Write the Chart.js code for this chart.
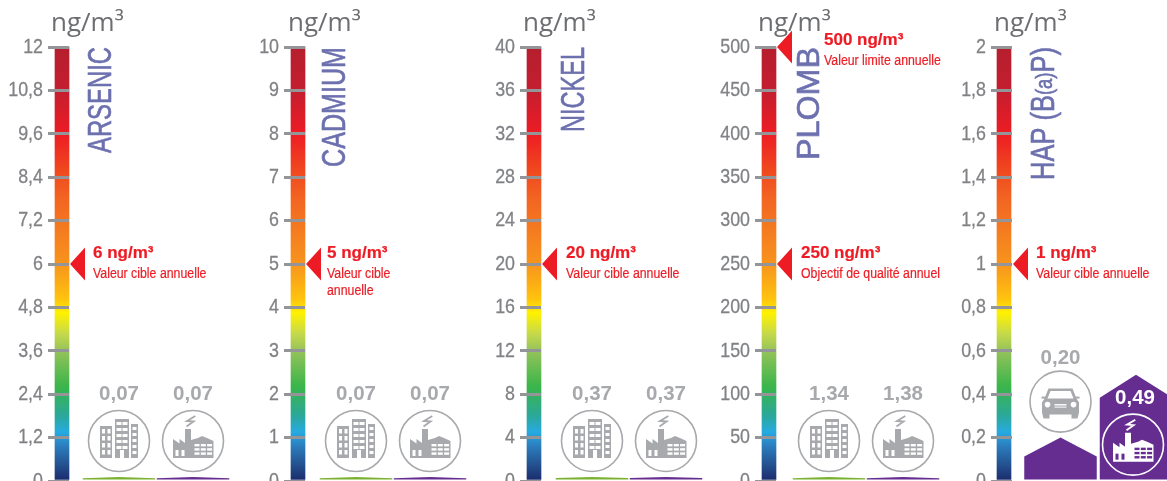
<!DOCTYPE html>
<html>
<head>
<meta charset="utf-8">
<title>Concentrations ng/m3</title>
<script src="https://cdn.jsdelivr.net/npm/chart.js@4"></script>
<style>
  html, body { margin: 0; padding: 0; background: #fff; overflow: hidden; }
  #page { position: relative; width: 1167px; height: 481px; overflow: hidden; }
  canvas { position: absolute; top: 0; }
</style>
</head>
<body>
<div id="page"></div>
<script>
// ==========================
// DATA
// ==========================
const arsenicTicks = [0, 1.2, 2.4, 3.6, 4.8, 6, 7.2, 8.4, 9.6, 10.8, 12];
const cadmiumTicks = [0, 1, 2, 3, 4, 5, 6, 7, 8, 9, 10];
const nickelTicks = [0, 4, 8, 12, 16, 20, 24, 28, 32, 36, 40];
const plombTicks = [0, 50, 100, 150, 200, 250, 300, 350, 400, 450, 500];
const hapTicks = [0, 0.2, 0.4, 0.6, 0.8, 1, 1.2, 1.4, 1.6, 1.8, 2];

const arsenicValues = [0.07, 0.07];
const cadmiumValues = [0.07, 0.07];
const nickelValues = [0.37, 0.37];
const plombValues = [1.34, 1.38];
const hapValues = [0.20, 0.49];

const arsenicTargets = [6];
const cadmiumTargets = [5];
const nickelTargets = [20];
const plombTargets = [500, 250];
const hapTargets = [1];

const arsenicNotes = [["Valeur cible annuelle"]];
const cadmiumNotes = [["Valeur cible", "annuelle"]];
const nickelNotes = [["Valeur cible annuelle"]];
const plombNotes = [["Valeur limite annuelle"], ["Objectif de qualité annuel"]];
const hapNotes = [["Valeur cible annuelle"]];

const unit = "ng/m³";

// ==========================
// COLOURS / FONTS
// ==========================
const GREY = "#a7a9ac";
const TICK_GREY = "#939598";
const RED = "#ed1c24";
const NAME_BLUE = "#6c70ae";
const GREEN = "#7ab130";
const PURPLE = "#662d91";
const SANS = '"Liberation Sans", sans-serif'; // no condensed face installed, squeezed with ctx.scale

const gaugeStops = [
  [0, "#b51f2e"], [0.1, "#c41e2f"], [0.2, "#ed1c24"], [0.28, "#f0461f"], [0.35, "#f26522"],
  [0.5, "#f7941d"], [0.58, "#ffc20e"], [0.613, "#fff200"], [0.66, "#c6d94a"], [0.7, "#95c35a"],
  [0.783, "#39b54a"], [0.85, "#2ba89a"], [0.887, "#27aae1"], [0.917, "#2b80c0"],
  [0.963, "#24508f"], [1, "#1b2a6b"]
];

// ==========================
// PANELS (layout only, values come from the arrays above)
// ==========================
const panels = [
  { name: [["ARSENIC", 1]], nameLen: 106, nameX: 101, ticks: arsenicTicks, values: arsenicValues,
    targets: arsenicTargets, notes: arsenicNotes, colors: [GREEN, PURPLE], icons: ["building", "factory"],
    left: 0, width: 235, axisX: 69, gaugeX: 62, firstBar: 119, step: 74, unitX: 51,
    noteDx: [23], noteDy: [[-11, 10]] },
  { name: [["CADMIUM", 1]], nameLen: 120, nameX: 335, ticks: cadmiumTicks, values: cadmiumValues,
    targets: cadmiumTargets, notes: cadmiumNotes, colors: [GREEN, PURPLE], icons: ["building", "factory"],
    left: 235, width: 235, axisX: 305, gaugeX: 298, firstBar: 356, step: 74, unitX: 288,
    noteDx: [21], noteDy: [[-11, 10]] },
  { name: [["NICKEL", 1]], nameLen: 85, nameX: 574, ticks: nickelTicks, values: nickelValues,
    targets: nickelTargets, notes: nickelNotes, colors: [GREEN, PURPLE], icons: ["building", "factory"],
    left: 470, width: 238, axisX: 541, gaugeX: 534, firstBar: 592, step: 74, unitX: 523,
    noteDx: [24], noteDy: [[-11, 10]] },
  { name: [["PLOMB", 0.94]], nameLen: 113, nameX: 809, ticks: plombTicks, values: plombValues,
    targets: plombTargets, notes: plombNotes, colors: [GREEN, PURPLE], icons: ["building", "factory"],
    left: 708, width: 237, axisX: 776, gaugeX: 769, firstBar: 829, step: 74, unitX: 758,
    noteDx: [47, 24], noteDy: [[-7, 14], [-11, 10]] },
  { name: [["HAP (B", 1], ["(a)", 0.72], ["P)", 1]], nameLen: 133, nameX: 1044, ticks: hapTicks, values: hapValues,
    targets: hapTargets, notes: hapNotes, colors: [PURPLE, PURPLE], icons: ["car", "factory"],
    left: 945, width: 222, axisX: 1012, gaugeX: 1004, firstBar: 1060.5, step: 75.5, unitX: 994,
    noteDx: [23], noteDy: [[-11, 10]] }
];

const AREA_TOP = 47;

// ==========================
// ICONS
// ==========================
function drawBuilding(ctx, fg, bg) {
  ctx.fillStyle = fg;
  ctx.fillRect(-19, -15, 12, 32);
  ctx.fillRect(-4, -22, 14, 39);
  ctx.fillRect(12, -17, 7, 34);
  ctx.fillStyle = bg;
  for (let r = 0; r < 4; r++) {
    for (let c = 0; c < 2; c++) ctx.fillRect(-17 + c * 5.5, -12 + r * 7, 3, 4.5);
  }
  for (let r = 0; r < 5; r++) {
    for (let c = 0; c < 2; c++) ctx.fillRect(-2.5 + c * 6, -19 + r * 6, 5, 3);
    ctx.fillRect(13.5, -14 + r * 6, 4, 3);
  }
  ctx.fillRect(1, 9, 4, 8);
}

function drawFactory(ctx, fg, bg) {
  ctx.fillStyle = fg;
  ctx.beginPath();
  const outline = [[-20, 17], [-20, -2], [-13.5, 2.5], [-13.5, -2], [-8, 2], [-8, -12], [-2, -12],
    [-2, -1], [5, -3], [9, -5], [14, -3], [20.5, 0], [20.5, 17]];
  outline.forEach((p, i) => i ? ctx.lineTo(p[0], p[1]) : ctx.moveTo(p[0], p[1]));
  ctx.closePath();
  ctx.fill();
  ctx.fillStyle = bg;
  for (let r = 0; r < 3; r++) {
    for (let c = 0; c < 3; c++) ctx.fillRect(1.5 + c * 6.3, 3 + r * 4.2, 5, 2.4);
  }
  ctx.fillRect(-17.5, 9, 3, 6);
  ctx.fillRect(-11.5, 9, 3, 6);
  ctx.strokeStyle = fg;
  ctx.lineWidth = 1.8;
  ctx.beginPath();
  ctx.moveTo(2.3, -25);
  ctx.lineTo(-6, -20);
  ctx.lineTo(0.6, -19.5);
  ctx.lineTo(-6.5, -14.5);
  ctx.stroke();
}

function drawCar(ctx, fg, bg) {
  ctx.fillStyle = fg;
  ctx.beginPath();
  ctx.moveTo(-12, -13);
  ctx.lineTo(12, -13);
  ctx.lineTo(16, -3);
  ctx.lineTo(18.5, 1);
  ctx.lineTo(18.5, 11);
  ctx.lineTo(17, 17);
  ctx.lineTo(11, 17);
  ctx.lineTo(11, 13);
  ctx.lineTo(-11, 13);
  ctx.lineTo(-11, 17);
  ctx.lineTo(-17, 17);
  ctx.lineTo(-18.5, 11);
  ctx.lineTo(-18.5, 1);
  ctx.lineTo(-16, -3);
  ctx.closePath();
  ctx.fill();
  ctx.fillRect(-19, -5, 5, 2);
  ctx.fillRect(14, -5, 5, 2);
  ctx.fillStyle = bg;
  ctx.beginPath();
  ctx.moveTo(-10, -10.5);
  ctx.lineTo(10, -10.5);
  ctx.lineTo(13, -3);
  ctx.lineTo(-13, -3);
  ctx.closePath();
  ctx.fill();
  [-13, 13].forEach(x => {
    ctx.beginPath();
    ctx.arc(x, 3, 2.8, 0, Math.PI * 2);
    ctx.fill();
  });
  ctx.fillRect(-6, 2.5, 12, 1.4);
  ctx.fillRect(-6, 5, 12, 1);
}

const iconDrawers = { building: drawBuilding, factory: drawFactory, car: drawCar };

function drawIcon(ctx, kind, x, y, fg, bg) {
  ctx.save();
  ctx.translate(x, y);
  ctx.strokeStyle = fg;
  ctx.lineWidth = 1.6;
  ctx.beginPath();
  ctx.arc(0, 0, 30.5, 0, Math.PI * 2);
  ctx.stroke();
  iconDrawers[kind](ctx, fg, bg);
  ctx.restore();
}

// text squeezed horizontally, k is the width factor
function squeezedText(ctx, text, x, y, k) {
  ctx.save();
  ctx.translate(x, y);
  ctx.scale(k, 1);
  ctx.fillText(text, 0, 0);
  ctx.strokeText(text, 0, 0);
  ctx.restore();
}

// ==========================
// PLUGIN: tick labels, pentagon bars, icons, target arrows, texts
// ==========================
const gaugePlugin = {
  id: "gaugeDecor",
  afterDatasetsDraw(chart, args, opts) {
    const p = opts.panel;
    const ctx = chart.ctx;
    const yScale = chart.scales.y;
    const area = chart.chartArea;

    ctx.save();

    // tick labels
    ctx.fillStyle = "#808285";
    ctx.strokeStyle = "#808285";
    ctx.lineWidth = 0.3;
    ctx.font = `21px ${SANS}`;
    ctx.textAlign = "right";
    ctx.textBaseline = "middle";
    yScale.ticks.forEach((t, i) => {
      squeezedText(ctx, t.label, area.left - 26, yScale.getPixelForTick(i), 0.85);
    });

    // unit above the axis
    ctx.fillStyle = "#6d6e71";
    ctx.font = '26px "Open Sans", sans-serif';
    ctx.textBaseline = "alphabetic";
    ctx.textAlign = "left";
    ctx.fillText(unit, p.unitX - p.left, 31);

    // name of the pollutant, rotated
    ctx.save();
    ctx.translate(p.nameX - p.left, AREA_TOP);
    ctx.rotate(-Math.PI / 2);
    ctx.fillStyle = NAME_BLUE;
    ctx.strokeStyle = NAME_BLUE;
    ctx.lineWidth = 0.6;
    ctx.textBaseline = "middle";
    const fontFor = k => `${Math.round(33 * k)}px ${SANS}`;
    let total = 0;
    p.name.forEach(s => { ctx.font = fontFor(s[1]); total += ctx.measureText(s[0]).width; });
    ctx.scale(p.nameLen / total, 1);
    let run = -total;
    ctx.textAlign = "left";
    p.name.forEach(s => {
      ctx.font = fontFor(s[1]);
      ctx.fillText(s[0], run, 1);
      ctx.strokeText(s[0], run, 1);
      run += ctx.measureText(s[0]).width;
    });
    ctx.restore();

    // pentagon bars
    const meta = chart.getDatasetMeta(1);
    meta.data.forEach((bar, i) => {
      const half = bar.width / 2;
      const realH = bar.base - bar.y;
      const h = Math.max(realH, 2.5); // very small values stay visible
      const top = bar.base - h;
      const shoulder = Math.min(h * 0.45, 23);
      ctx.fillStyle = p.colors[i];
      ctx.beginPath();
      ctx.moveTo(bar.x - half, bar.base);
      ctx.lineTo(bar.x - half, top + shoulder);
      ctx.lineTo(bar.x, top);
      ctx.lineTo(bar.x + half, top + shoulder);
      ctx.lineTo(bar.x + half, bar.base);
      ctx.closePath();
      ctx.fill();

      // value + icon: inside the bar when it is tall enough
      const inside = h > 90;
      const label = p.values[i].toFixed(2).replace(".", ",");
      const iconX = inside ? bar.x - 3 : bar.x;
      const iconY = inside ? top + 70 : top - 36;
      const gap = p.icons[i] === "car" ? 43 : 47;
      const labelY = inside ? top + 24 : iconY - gap;
      ctx.fillStyle = inside ? "#fff" : GREY;
      ctx.font = `bold 20.5px ${SANS}`;
      ctx.textAlign = "center";
      ctx.textBaseline = "middle";
      ctx.fillText(label, inside ? bar.x - 1 : bar.x, labelY);
      drawIcon(ctx, p.icons[i], iconX, iconY, inside ? "#fff" : GREY, inside ? PURPLE : "#fff");
    });

    // target arrows with their notes
    p.targets.forEach((t, i) => {
      const y = yScale.getPixelForValue(t);
      const tip = area.left + 1;
      ctx.fillStyle = RED;
      ctx.strokeStyle = RED;
      ctx.lineWidth = 0.2;
      ctx.beginPath();
      ctx.moveTo(tip, y);
      ctx.lineTo(tip + 15, y - 16.5);
      ctx.lineTo(tip + 15, y + 16.5);
      ctx.closePath();
      ctx.fill();
      const tx = tip + p.noteDx[i];
      const dy = p.noteDy[i];
      const txt = String(t).replace(".", ",") + " " + unit;
      ctx.textAlign = "left";
      ctx.textBaseline = "middle";
      ctx.font = `bold 17px ${SANS}`;
      squeezedText(ctx, txt, tx, y + dy[0], 1);
      ctx.font = `14px ${SANS}`;
      p.notes[i].forEach((line, k) => squeezedText(ctx, line, tx, y + dy[1] + k * 17, 0.88));
    });
    ctx.restore();
  }
};

// ==========================
// CHARTS
// ==========================
function gaugeGradient(chart) {
  const area = chart.chartArea;
  if (!area) return "#ed1c24";
  const g = chart.ctx.createLinearGradient(0, area.top, 0, area.bottom);
  gaugeStops.forEach(s => g.addColorStop(s[0], s[1]));
  return g;
}

function renderPanel(p) {
  const canvas = document.createElement("canvas");
  canvas.width = p.width;
  canvas.height = 481;
  canvas.style.left = p.left + "px";
  canvas.style.width = p.width + "px";
  canvas.style.height = "481px";
  document.getElementById("page").appendChild(canvas);

  // x is in "slots": 1 and 2 are the two bars, the gauge sits left of the chart area
  const axisPx = p.axisX - p.left;
  const xMin = 1 - (p.firstBar - p.axisX) / p.step;
  const xMax = 1 + (p.left + p.width - p.firstBar) / p.step;
  const gaugeSlot = 1 - (p.firstBar - p.gaugeX) / p.step;
  const yMax = p.ticks[p.ticks.length - 1];

  new Chart(canvas, {
    type: "bar",
    data: {
      datasets: [
        {
          data: [{ x: gaugeSlot, y: yMax }],
          backgroundColor: c => gaugeGradient(c.chart),
          barThickness: 14,
          clip: false,
          order: 2
        },
        {
          data: p.values.map((v, i) => ({ x: i + 1, y: v })),
          backgroundColor: "transparent", // drawn as pentagons by the plugin
          barThickness: 72.5,
          clip: false,
          order: 1
        }
      ]
    },
    options: {
      responsive: false,
      animation: false,
      layout: { padding: { top: AREA_TOP, bottom: 0, left: 0, right: 0 } },
      datasets: { bar: { grouped: false } },
      scales: {
        x: { type: "linear", display: false, offset: false, min: xMin, max: xMax },
        y: {
          type: "linear",
          min: 0,
          max: yMax,
          afterBuildTicks: s => { s.ticks = p.ticks.map(v => ({ value: v })); },
          afterFit: s => { s.width = axisPx; s.paddingTop = 0; s.paddingBottom = 0; },
          border: { display: false },
          grid: {
            drawOnChartArea: false,
            tickLength: 21,
            lineWidth: 3,
            tickColor: TICK_GREY,
            z: 1
          },
          ticks: {
            display: false,
            autoSkip: false,
            callback: v => String(v).replace(".", ",")
          }
        }
      },
      plugins: {
        legend: { display: false },
        tooltip: { enabled: false },
        gaugeDecor: { panel: p }
      }
    },
    plugins: [gaugePlugin]
  });
}

panels.forEach(renderPanel);
</script>
</body>
</html>
